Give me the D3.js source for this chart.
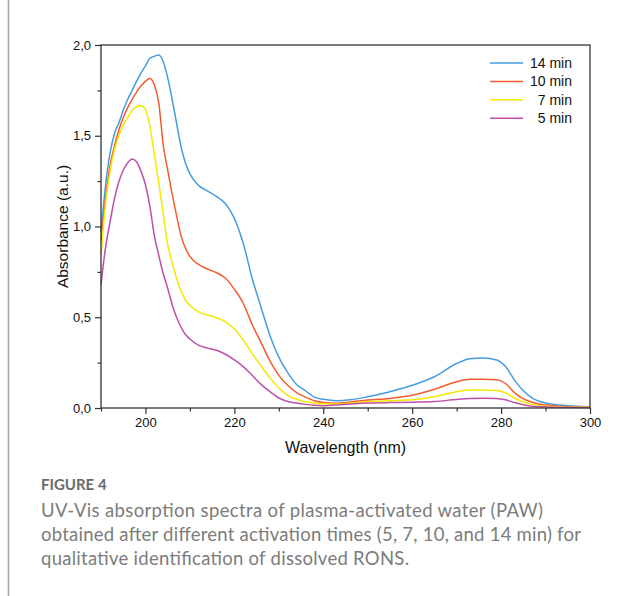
<!DOCTYPE html>
<html><head><meta charset="utf-8">
<script src="https://cdn.jsdelivr.net/npm/d3@7"></script>
<style>body{margin:0;background:#fff}svg{display:block}</style>
</head><body>
<svg id="chart" width="644" height="596"></svg>
<script>
const wavelengths = [190,191,192,193,194,195,196,197,198,199,200,201,202,203,204,205,206,207,208,209,210,212,214,216,218,220,222,224,226,228,230,232,234,236,238,240,243,246,250,255,260,265,270,273,276,279,281,283,285,287,290,295,300];
const min14 = [0.97,1.22,1.40,1.51,1.57,1.64,1.70,1.75,1.80,1.845,1.885,1.927,1.938,1.945,1.908,1.82,1.70,1.57,1.44,1.35,1.29,1.225,1.195,1.165,1.125,1.045,0.907,0.715,0.555,0.40,0.28,0.195,0.13,0.095,0.06,0.048,0.04,0.045,0.062,0.09,0.125,0.172,0.245,0.272,0.275,0.265,0.228,0.155,0.095,0.055,0.028,0.013,0.007];
const min10 = [0.92,1.15,1.33,1.44,1.53,1.60,1.655,1.70,1.74,1.775,1.80,1.815,1.78,1.68,1.45,1.31,1.18,1.06,0.95,0.88,0.835,0.79,0.765,0.745,0.715,0.655,0.577,0.46,0.36,0.26,0.18,0.125,0.085,0.06,0.04,0.03,0.026,0.033,0.044,0.053,0.07,0.103,0.145,0.158,0.158,0.155,0.135,0.085,0.05,0.032,0.016,0.008,0.005];
const min7 = [0.84,1.12,1.30,1.42,1.50,1.56,1.60,1.64,1.66,1.665,1.645,1.55,1.40,1.24,1.07,0.90,0.80,0.715,0.645,0.595,0.565,0.53,0.512,0.497,0.475,0.435,0.375,0.30,0.232,0.167,0.11,0.07,0.048,0.035,0.027,0.023,0.022,0.027,0.035,0.04,0.045,0.062,0.09,0.099,0.099,0.096,0.083,0.055,0.033,0.02,0.01,0.006,0.005];
const min5 = [0.68,0.88,1.02,1.15,1.245,1.31,1.35,1.372,1.357,1.305,1.23,1.11,0.95,0.84,0.74,0.66,0.57,0.50,0.445,0.405,0.38,0.345,0.33,0.318,0.296,0.265,0.228,0.18,0.13,0.09,0.055,0.036,0.027,0.02,0.015,0.013,0.016,0.022,0.027,0.03,0.032,0.036,0.047,0.052,0.054,0.053,0.045,0.03,0.018,0.01,0.006,0.004,0.003];
const seriesNames = ["14 min","10 min","7 min","5 min"];
const seriesValues = [min14, min10, min7, min5];
const seriesColors = ["#449ddf","#f55b30","#f2e900","#bd50ab"];
const xTicks = [200,220,240,260,280,300];
const xMinor = [190,210,230,250,270,290];
const yTicks = [0,0.5,1.0,1.5,2.0];
const yTickLabels = ["0,0","0,5","1,0","1,5","2,0"];
const yMinor = [0.25,0.75,1.25,1.75];
const xTitle = "Wavelength (nm)";
const yTitle = "Absorbance (a.u.)";
const figLabel = "FIGURE 4";
const captionLines = ["UV-Vis absorption spectra of plasma-activated water (PAW)","obtained after different activation times (5, 7, 10, and 14 min) for","qualitative identification of dissolved RONS."];

const svg = d3.select("#chart");
const L = 101, R = 590, T = 45, B = 408;
const x = d3.scaleLinear().domain([190,300]).range([L,R]);
const y = d3.scaleLinear().domain([0,2]).range([B,T]);
const axisColor = "#333";
const sans = "'Liberation Sans', Arial, sans-serif";

// figure frame line at left
svg.append("line").attr("x1",8.5).attr("x2",8.5).attr("y1",0).attr("y2",596)
  .attr("stroke","#a9a9a9").attr("stroke-width",1.6);

// curves
const line = d3.line().x(d=>x(d[0])).y(d=>y(d[1])).curve(d3.curveMonotoneX);
const g = svg.append("g");
seriesValues.forEach((vals,i)=>{
  g.append("path").datum(wavelengths.map((w,j)=>[w,vals[j]]))
   .attr("d",line).attr("fill","none").attr("stroke",seriesColors[i])
   .attr("stroke-width",1.5).attr("stroke-linejoin","round");
});

// frame
svg.append("rect").attr("x",L).attr("y",T).attr("width",R-L).attr("height",B-T)
  .attr("fill","none").attr("stroke",axisColor).attr("stroke-width",1.3);

// x axis
const xAxis = d3.axisBottom(x).tickValues(xTicks).tickSize(6).tickPadding(4).tickFormat(d3.format("d"));
const gx = svg.append("g").attr("transform",`translate(0,${B})`).call(xAxis);
gx.select(".domain").remove();
const gxm = svg.append("g").attr("transform",`translate(0,${B})`)
  .call(d3.axisBottom(x).tickValues(xMinor).tickSize(3.5).tickFormat(""));
gxm.select(".domain").remove();
// y axis
const yAxis = d3.axisLeft(y).tickValues(yTicks).tickSize(6).tickPadding(4).tickFormat((d,i)=>yTickLabels[i]);
const gy = svg.append("g").attr("transform",`translate(${L},0)`).call(yAxis);
gy.select(".domain").remove();
const gym = svg.append("g").attr("transform",`translate(${L},0)`)
  .call(d3.axisLeft(y).tickValues(yMinor).tickSize(3.5).tickFormat(""));
gym.select(".domain").remove();
svg.selectAll(".tick line").attr("stroke",axisColor).attr("stroke-width",1.2);
svg.selectAll(".tick text").attr("fill","#111").style("font-family",sans).style("font-size","13px");

// titles
svg.append("text").attr("x",(L+R)/2).attr("y",453).attr("text-anchor","middle")
  .style("font-family",sans).style("font-size","16px").attr("fill","#111").text(xTitle);
svg.append("text").attr("transform",`translate(68,${(T+B)/2}) rotate(-90)`).attr("text-anchor","middle")
  .style("font-family",sans).style("font-size","15.5px").attr("fill","#111").text(yTitle);

// legend
const lg = svg.append("g");
seriesNames.forEach((n,i)=>{
  const yy = 63 + i*18.4;
  lg.append("line").attr("x1",490).attr("x2",523).attr("y1",yy).attr("y2",yy)
    .attr("stroke",seriesColors[i]).attr("stroke-width",1.5);
  lg.append("text").attr("x",572).attr("y",yy+5).attr("text-anchor","end")
    .style("font-family",sans).style("font-size","14px").attr("fill","#111").text(n);
});

// caption
svg.append("text").attr("x",41).attr("y",490)
  .style("font-family","Lato, 'Open Sans', sans-serif").style("font-size","15px").style("font-weight","700")
  .attr("fill","#6b6b6b").text(figLabel);
const capWidths = [502, 540, 368];
captionLines.forEach((t,i)=>{
  svg.append("text").attr("x",41).attr("y",517+i*24)
    .attr("textLength",capWidths[i]).attr("lengthAdjust","spacing")
    .style("font-family","Lato, 'Open Sans', sans-serif").style("font-size","18.5px")
    .attr("fill","#7c7c7c").text(t);
});
</script>
</body></html>
